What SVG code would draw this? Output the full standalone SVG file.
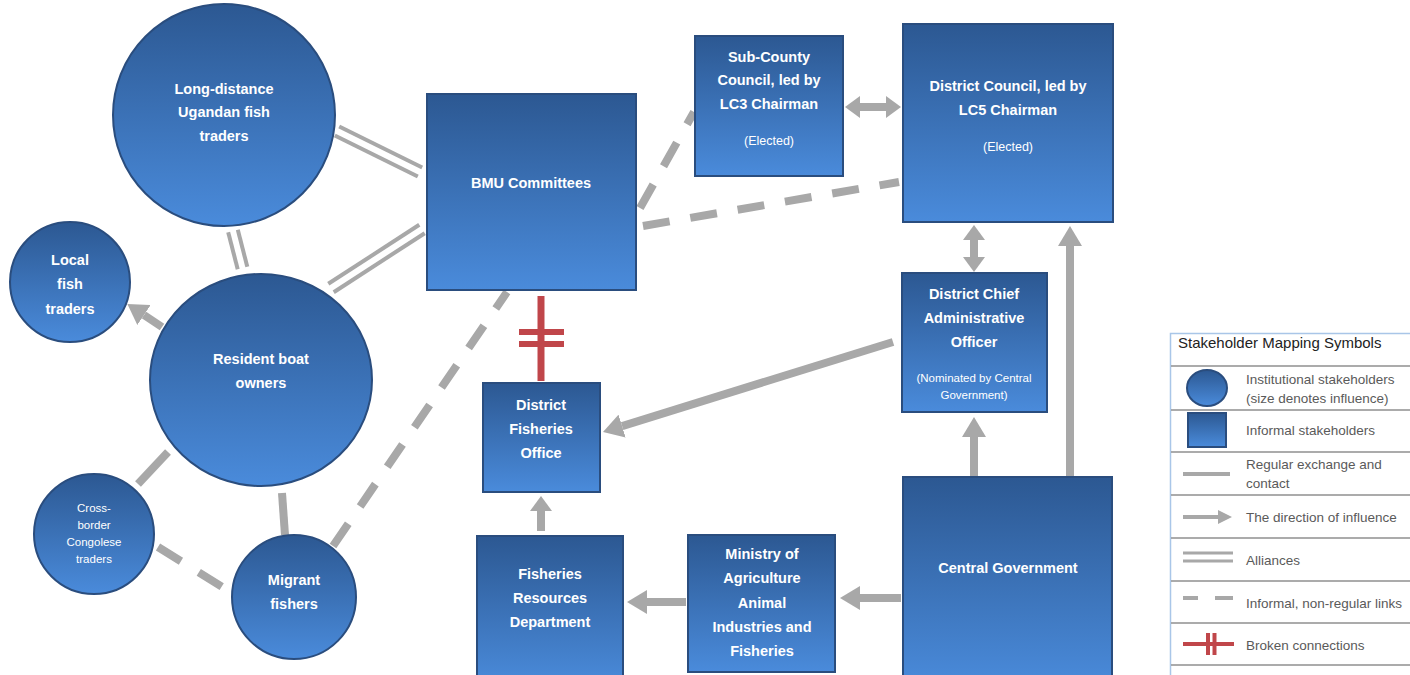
<svg xmlns="http://www.w3.org/2000/svg" width="1410" height="675" viewBox="0 0 1410 675">
<defs>
<linearGradient id="g" x1="0" y1="0" x2="0" y2="1">
<stop offset="0" stop-color="#2c5892"/>
<stop offset="1" stop-color="#4a8bdb"/>
</linearGradient>
<marker id="head" markerUnits="userSpaceOnUse" viewBox="0 0 20 24" markerWidth="20" markerHeight="24" refX="0" refY="12" orient="auto-start-reverse">
<path d="M0,0 L20,12 L0,24 z" fill="#a8a8a8"/>
</marker>
<marker id="headS" markerUnits="userSpaceOnUse" viewBox="0 0 15 22" markerWidth="15" markerHeight="22" refX="0" refY="11" orient="auto-start-reverse">
<path d="M0,0 L15,11 L0,22 z" fill="#a8a8a8"/>
</marker>
<marker id="headL" markerUnits="userSpaceOnUse" viewBox="0 0 14 14" markerWidth="14" markerHeight="14" refX="0" refY="7" orient="auto">
<path d="M0,0 L14,7 L0,14 z" fill="#a8a8a8"/>
</marker>
</defs>
<style>
.node{fill:url(#g);stroke:#2a4d7e;stroke-width:2}
.t{font-family:"Liberation Sans",Arial,sans-serif;font-weight:bold;font-size:14.5px;fill:#fff;text-anchor:middle}
.s{font-family:"Liberation Sans",Arial,sans-serif;font-size:11.5px;fill:#fff;text-anchor:middle}
.e{font-family:"Liberation Sans",Arial,sans-serif;font-size:12.5px;fill:#fff;text-anchor:middle}
.solid{stroke:#a8a8a8;stroke-width:8;fill:none}
.arrow{stroke:#a8a8a8;stroke-width:8;fill:none;marker-end:url(#head)}
.dbl{stroke:#a8a8a8;stroke-width:8;fill:none;marker-start:url(#headS);marker-end:url(#headS)}
.ally{stroke:#a8a8a8;stroke-width:4;fill:none}
.dash{stroke:#a8a8a8;stroke-width:8;fill:none;stroke-dasharray:27 21}
.broken{stroke:#c0464a;fill:none}
.lg{font-family:"Liberation Sans",Arial,sans-serif;font-size:13.5px;fill:#5a5a5a}
.sep{stroke:#8f8f8f;stroke-width:1.5}
</style>
<rect width="1410" height="675" fill="#fff"/>

<g id="connectors">
<line class="ally" x1="339.2" y1="126.5" x2="422.2" y2="167.5"/>
<line class="ally" x1="334.8" y1="135.5" x2="417.8" y2="176.5"/>
<line class="ally" x1="228.2" y1="232.2" x2="237.7" y2="269.2"/>
<line class="ally" x1="237.8" y1="229.8" x2="247.3" y2="266.8"/>
<line class="ally" x1="328.3" y1="283.8" x2="419.3" y2="224.8"/>
<line class="ally" x1="333.7" y1="292.2" x2="424.7" y2="233.2"/>
<line class="solid" x1="168" y1="452" x2="138" y2="484"/>
<line class="solid" x1="282" y1="493" x2="285" y2="535"/>
<line class="dash" x1="158" y1="547" x2="224" y2="588"/>
<line class="dash" x1="333" y1="546" x2="507" y2="292"/>
<line class="dash" x1="640" y1="208" x2="694" y2="112"/>
<line class="dash" x1="643" y1="226" x2="899" y2="182"/>
<line class="arrow" x1="162" y1="327" x2="144" y2="315"/>
<line class="arrow" x1="893" y1="342" x2="622.1" y2="426.1"/>
<line class="arrow" x1="974" y1="476" x2="974" y2="437"/>
<line class="arrow" x1="1070" y1="476" x2="1070" y2="246"/>
<line class="arrow" x1="686" y1="602" x2="647" y2="602"/>
<line class="arrow" x1="901" y1="598" x2="860" y2="598"/>
<line class="solid" x1="541" y1="531" x2="541" y2="511" marker-end="url(#headS)"/>
<line class="dbl" x1="974" y1="240" x2="974" y2="257"/>
<line class="dbl" x1="860" y1="107" x2="886" y2="107"/>
<line class="broken" stroke-width="7" x1="541" y1="296" x2="541" y2="381"/>
<line class="broken" stroke-width="6" x1="519" y1="332" x2="564" y2="332"/>
<line class="broken" stroke-width="6" x1="519" y1="344" x2="564" y2="344"/>
</g>

<g id="n-longdistance">
<circle class="node" cx="224" cy="115" r="111"/>
<text class="t" x="224" y="94">Long-distance</text>
<text class="t" x="224" y="117">Ugandan fish</text>
<text class="t" x="224" y="141">traders</text>
</g>
<g id="n-local">
<circle class="node" cx="70" cy="282" r="60"/>
<text class="t" x="70" y="265">Local</text>
<text class="t" x="70" y="289">fish</text>
<text class="t" x="70" y="314">traders</text>
</g>
<g id="n-resident">
<ellipse class="node" cx="261" cy="380" rx="111" ry="106"/>
<text class="t" x="261" y="364">Resident boat</text>
<text class="t" x="261" y="388">owners</text>
</g>
<g id="n-crossborder">
<circle class="node" cx="94" cy="534" r="60"/>
<text class="s" x="94" y="512">Cross-</text>
<text class="s" x="94" y="529">border</text>
<text class="s" x="94" y="546">Congolese</text>
<text class="s" x="94" y="563">traders</text>
</g>
<g id="n-migrant">
<circle class="node" cx="294" cy="597" r="62"/>
<text class="t" x="294" y="585">Migrant</text>
<text class="t" x="294" y="609">fishers</text>
</g>
<g id="n-bmu">
<rect class="node" x="427" y="94" width="209" height="196"/>
<text class="t" x="531" y="188" font-size="15">BMU Committees</text>
</g>
<g id="n-subcounty">
<rect class="node" x="695" y="36" width="148" height="140"/>
<text class="t" x="769" y="62">Sub-County</text>
<text class="t" x="769" y="85">Council, led by</text>
<text class="t" x="769" y="109">LC3 Chairman</text>
<text class="e" x="769" y="145">(Elected)</text>
</g>
<g id="n-districtcouncil">
<rect class="node" x="903" y="24" width="210" height="198"/>
<text class="t" x="1008" y="91">District Council, led by</text>
<text class="t" x="1008" y="115">LC5 Chairman</text>
<text class="e" x="1008" y="151">(Elected)</text>
</g>
<g id="n-dcao">
<rect class="node" x="902" y="273" width="145" height="139"/>
<text class="t" x="974" y="299">District Chief</text>
<text class="t" x="974" y="323">Administrative</text>
<text class="t" x="974" y="347">Officer</text>
<text class="s" x="974" y="382">(Nominated by Central</text>
<text class="s" x="974" y="399">Government)</text>
</g>
<g id="n-dfo">
<rect class="node" x="483" y="383" width="117" height="109"/>
<text class="t" x="541" y="410">District</text>
<text class="t" x="541" y="434">Fisheries</text>
<text class="t" x="541" y="458">Office</text>
</g>
<g id="n-frd">
<rect class="node" x="477" y="536" width="146" height="150"/>
<text class="t" x="550" y="579">Fisheries</text>
<text class="t" x="550" y="603">Resources</text>
<text class="t" x="550" y="627">Department</text>
</g>
<g id="n-ministry">
<rect class="node" x="688" y="535" width="147" height="137"/>
<text class="t" x="762" y="559">Ministry of</text>
<text class="t" x="762" y="583">Agriculture</text>
<text class="t" x="762" y="608">Animal</text>
<text class="t" x="762" y="632">Industries and</text>
<text class="t" x="762" y="656">Fisheries</text>
</g>
<g id="n-central">
<rect class="node" x="903" y="477" width="209" height="210"/>
<text class="t" x="1008" y="573">Central Government</text>
</g>

<g id="legend">
<rect x="1170.5" y="333.5" width="260" height="360" fill="#fff" stroke="#a9c6e8" stroke-width="1.5"/>
<text x="1178" y="348" font-family="Liberation Sans, Arial, sans-serif" font-size="15px" fill="#222">Stakeholder Mapping Symbols</text>
<line class="sep" x1="1171" y1="366" x2="1410" y2="366"/>
<line class="sep" x1="1171" y1="410" x2="1410" y2="410"/>
<line class="sep" x1="1171" y1="452" x2="1410" y2="452"/>
<line class="sep" x1="1171" y1="495" x2="1410" y2="495"/>
<line class="sep" x1="1171" y1="538" x2="1410" y2="538"/>
<line class="sep" x1="1171" y1="581" x2="1410" y2="581"/>
<line class="sep" x1="1171" y1="623" x2="1410" y2="623"/>
<line class="sep" x1="1171" y1="665" x2="1410" y2="665"/>
<ellipse class="node" cx="1207" cy="388" rx="20" ry="18" stroke-width="1.5"/>
<rect class="node" x="1188" y="413" width="38" height="34" stroke-width="1.5"/>
<line stroke="#a8a8a8" stroke-width="4" x1="1183" y1="474" x2="1230" y2="474"/>
<line stroke="#a8a8a8" stroke-width="4" x1="1183" y1="517" x2="1218" y2="517" marker-end="url(#headL)"/>
<line stroke="#a8a8a8" stroke-width="3" x1="1183" y1="553" x2="1233" y2="553"/>
<line stroke="#a8a8a8" stroke-width="3" x1="1183" y1="561" x2="1233" y2="561"/>
<line stroke="#a8a8a8" stroke-width="4" x1="1183" y1="598" x2="1198" y2="598"/>
<line stroke="#a8a8a8" stroke-width="4" x1="1215" y1="598" x2="1233" y2="598"/>
<line stroke="#c0464a" stroke-width="4" x1="1183" y1="644" x2="1234" y2="644"/>
<line stroke="#c0464a" stroke-width="4" x1="1208" y1="633" x2="1208" y2="655"/>
<line stroke="#c0464a" stroke-width="4" x1="1214.5" y1="633" x2="1214.5" y2="655"/>
<text class="lg" x="1246" y="384">Institutional stakeholders</text>
<text class="lg" x="1246" y="403">(size denotes influence)</text>
<text class="lg" x="1246" y="435">Informal stakeholders</text>
<text class="lg" x="1246" y="469">Regular exchange and</text>
<text class="lg" x="1246" y="488">contact</text>
<text class="lg" x="1246" y="522">The direction of influence</text>
<text class="lg" x="1246" y="565">Alliances</text>
<text class="lg" x="1246" y="608">Informal, non-regular links</text>
<text class="lg" x="1246" y="650">Broken connections</text>
</g>
</svg>
